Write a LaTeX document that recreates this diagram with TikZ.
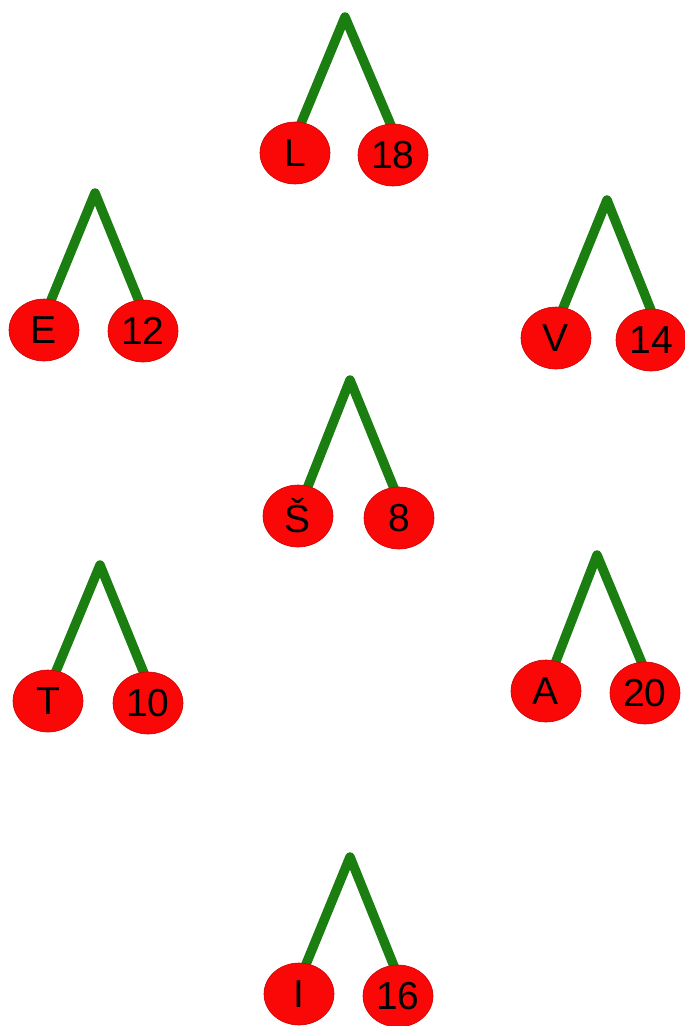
\documentclass[tikz,border=0pt]{standalone}
\usepackage{fontspec}
\setmainfont{Liberation Sans}
\usetikzlibrary{shapes.geometric}
\pgfdeclarelayer{background}
\pgfsetlayers{background,main}
\definecolor{stemgreen}{RGB}{26,126,16}
\definecolor{cherryred}{RGB}{250,8,8}
\tikzset{
  cherry/.style={ellipse, fill=cherryred, draw=red!80!black, line width=0.6pt,
    minimum width=70pt, minimum height=62pt, inner sep=0pt,
    font=\fontsize{39}{42}\selectfont, text=black},
  stem/.style={draw=stemgreen, line width=9.5pt, line join=round, line cap=butt}
}
\begin{document}
\begin{tikzpicture}[x=1pt,y=1pt]
\useasboundingbox (0,0) rectangle (685,-1026);
% apex coordinates
\coordinate (a1) at (345,-17);
\coordinate (a2) at (95,-193);
\coordinate (a3) at (607,-200);
\coordinate (a4) at (350,-380);
\coordinate (a5) at (100,-565);
\coordinate (a6) at (597,-555);
\coordinate (a7) at (350,-857);
% cherries
\node[cherry] (L)   at (295,-153) {L};
\node[cherry] (n18) at (393,-155) {18};
\node[cherry] (E)   at (44,-330)  {E};
\node[cherry] (n12) at (143,-331) {12};
\node[cherry] (V)   at (556,-338) {V};
\node[cherry] (n14) at (651,-340) {14};
\node[cherry] (S)   at (298,-516) {Š};
\node[cherry] (n8)  at (399,-518) {8};
\node[cherry] (T)   at (48,-701)  {T};
\node[cherry] (n10) at (148,-703) {10};
\node[cherry] (A)   at (546,-691) {A};
\node[cherry] (n20) at (645,-693) {20};
\node[cherry] (I)   at (299,-994) {I};
\node[cherry] (n16) at (398,-996) {16};
% stems
\begin{pgfonlayer}{background}
\draw[stem] ([xshift=5pt,yshift=-4pt]L.north) -- (a1) -- ([xshift=-1pt,yshift=-4pt]n18.north);
\draw[stem] ([xshift=6pt,yshift=-4pt]E.north) -- (a2) -- ([xshift=-3pt,yshift=-4pt]n12.north);
\draw[stem] ([xshift=6pt,yshift=-4pt]V.north) -- (a3) -- ([xshift=1pt,yshift=-4pt]n14.north);
\draw[stem] ([xshift=9pt,yshift=-4pt]S.north) -- (a4) -- ([xshift=-4pt,yshift=-4pt]n8.north);
\draw[stem] ([xshift=7pt,yshift=-4pt]T.north) -- (a5) -- ([xshift=-3pt,yshift=-4pt]n10.north);
\draw[stem] ([xshift=9pt,yshift=-4pt]A.north) -- (a6) -- ([xshift=-2pt,yshift=-4pt]n20.north);
\draw[stem] ([xshift=6pt,yshift=-4pt]I.north) -- (a7) -- ([xshift=-3pt,yshift=-4pt]n16.north);
\end{pgfonlayer}
\end{tikzpicture}
\end{document}
